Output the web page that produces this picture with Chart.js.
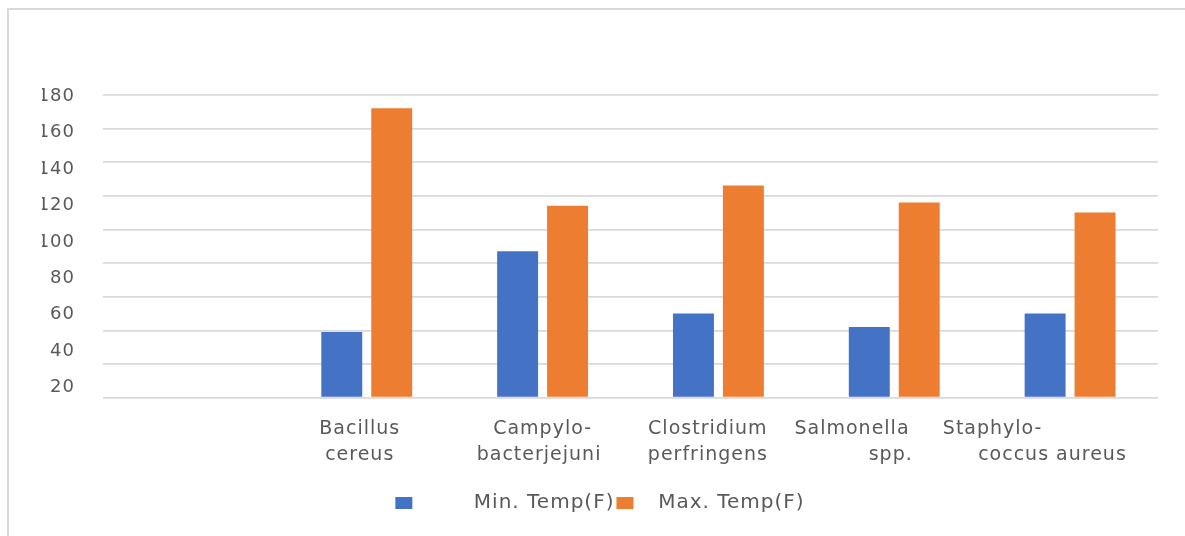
<!DOCTYPE html>
<html>
<head>
<meta charset="utf-8">
<title>Growth temperature ranges</title>
<script src="https://cdn.jsdelivr.net/npm/chart.js@4.4.1/dist/chart.umd.min.js"></script>
<style>
  html, body { margin: 0; padding: 0; background: #ffffff; overflow: hidden; }
  #wrap { width: 1185px; height: 536px; position: relative; }
</style>
</head>
<body>
<div id="wrap"><canvas id="chart" width="1185" height="536"></canvas></div>
<script>
// Categories (the first slot is left empty on purpose)
const categories = [
  '',
  ['Bacillus', 'cereus'],
  ['Campylo-', 'bacterjejuni'],
  ['Clostridium', 'perfringens'],
  ['Salmonella', 'spp.'],
  ['Staphylo-', 'coccus aureus']
];

// Temperatures in °F
const minTemp = [null, 39, 87, 50, 42, 50];
const maxTemp = [null, 172, 114, 126, 116, 110];

const seriesNames = ['Min. Temp(F)', 'Max. Temp(F)'];

// Labels printed along the value axis
const yTickLabels = [20, 40, 60, 80, 100, 120, 140, 160, 180];

const textColor = '#595959';
const gridColor = '#d9d9d9';
const fontFamily = '"DejaVu Sans", "Liberation Sans", sans-serif';

// Trailing blanks per label line, nudging each line off-centre
const labelTrail = [[0], [2, 2], [0, 1], [3, 3], [12, 1], [22, 5]];

// Leading blanks used to space the legend entries
const legendLead = ['       ', '  '];

// Slightly spaced-out lettering for every text drawn on the canvas
const spacingPlugin = {
  id: 'spacing',
  beforeUpdate(chart) { chart.ctx.letterSpacing = '1px'; },
  beforeDraw(chart) { chart.ctx.letterSpacing = '1px'; }
};

// Thin rules along the top and left edges of the canvas
const framePlugin = {
  id: 'frame',
  beforeDraw(chart) {
    const ctx = chart.ctx;
    ctx.save();
    ctx.fillStyle = gridColor;
    ctx.fillRect(7, 8, chart.width - 7, 2);
    ctx.fillRect(7, 8, 2, chart.height - 8);
    ctx.restore();
  }
};

new Chart(document.getElementById('chart'), {
  type: 'bar',
  data: {
    labels: categories,
    datasets: [
      {
        label: seriesNames[0],
        data: minTemp,
        backgroundColor: '#4472C4',
        borderWidth: 0
      },
      {
        label: seriesNames[1],
        data: maxTemp,
        backgroundColor: '#ED7D31',
        borderWidth: 0
      }
    ]
  },
  options: {
    responsive: false,
    animation: false,
    devicePixelRatio: 1,
    layout: { padding: { left: 42, right: 27, top: 94.7, bottom: 13 } },
    datasets: {
      bar: { categoryPercentage: 0.568, barPercentage: 0.82 }
    },
    scales: {
      x: {
        grid: { display: false, drawTicks: false },
        border: { display: false },
        ticks: {
          color: textColor,
          font: { family: fontFamily, size: 19, lineHeight: '26px' },
          padding: 18,
          maxRotation: 0,
          autoSkip: false,
          callback(value, index) {
            const lab = categories[index];
            const lines = Array.isArray(lab) ? lab : [lab];
            return lines.map((s, j) => s + ' '.repeat(labelTrail[index][j] || 0));
          }
        },
        afterFit(scale) {
          scale.height = 93.3;
          scale.paddingLeft = 0;
          scale.paddingRight = 0;
        }
      },
      y: {
        position: 'left',
        min: 0,
        max: 180,
        ticks: { stepSize: 20, display: false },
        grid: { color: gridColor, lineWidth: 1.7, drawTicks: false },
        border: { display: false },
        afterFit(scale) { scale.width = 0; }
      },
      y2: {
        position: 'left',
        min: 14.44,
        max: 180.88,
        grid: { display: false, drawTicks: false },
        border: { display: false },
        ticks: {
          color: textColor,
          font: { family: fontFamily, size: 18 },
          padding: 28
        },
        afterBuildTicks(scale) {
          scale.ticks = yTickLabels.map(v => ({ value: v }));
        },
        afterFit(scale) { scale.width = 61; }
      }
    },
    plugins: {
      title: { display: false },
      tooltip: { enabled: false },
      legend: {
        display: true,
        position: 'bottom',
        labels: {
          color: textColor,
          font: { family: fontFamily, size: 20 },
          boxWidth: 17,
          boxHeight: 12,
          padding: 2,
          generateLabels(chart) {
            const items = Chart.defaults.plugins.legend.labels.generateLabels(chart);
            items.forEach((it, i) => { it.text = legendLead[i] + it.text; });
            return items;
          }
        }
      }
    }
  },
  plugins: [spacingPlugin, framePlugin]
});
</script>
</body>
</html>
